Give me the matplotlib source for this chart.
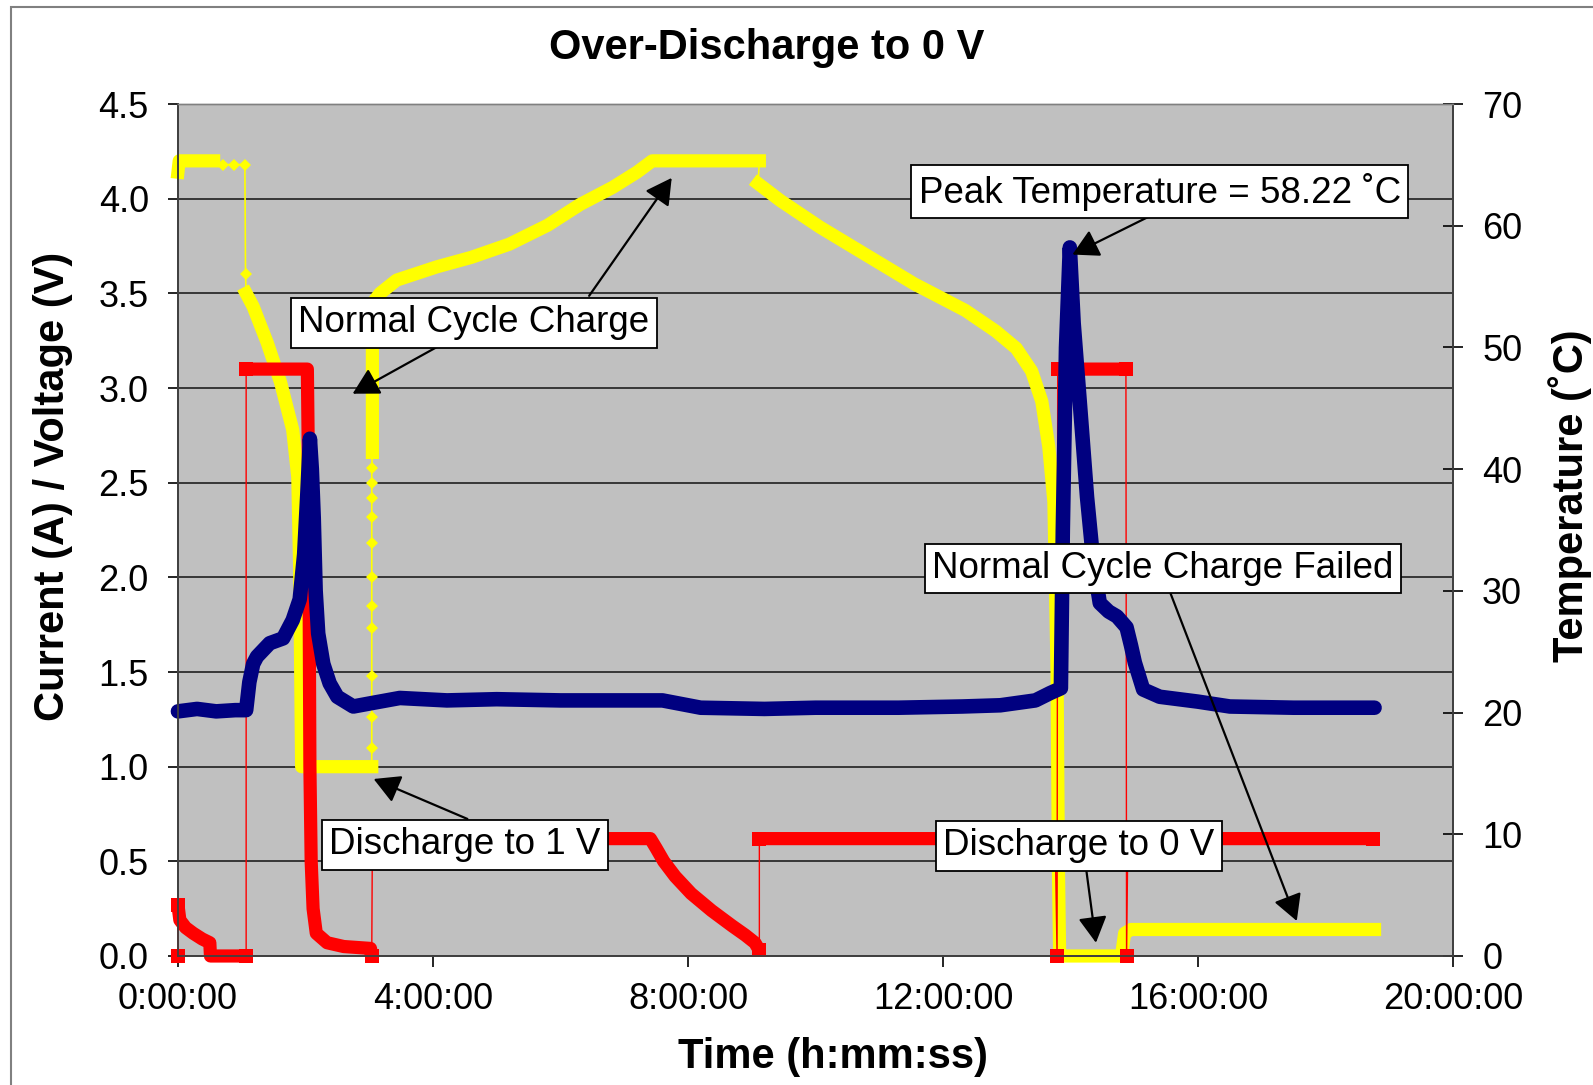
import numpy as np
import matplotlib.pyplot as plt
from matplotlib.patches import Rectangle

plt.rcParams["font.family"] = ["Liberation Sans", "DejaVu Sans"]

nan = np.nan

# time in hours; nan marks a jump that the logger drew as a thin connector
voltage_t = [0.00, 0.02, 0.30, 0.56, nan, 0.70, nan, 0.88, nan, 1.05, nan, 1.06, nan,
             1.07, 1.18, 1.40, 1.61, 1.80, 1.88, 1.91, 1.94, 2.00, 3.04, nan,
             3.04, nan, 3.04, nan, 3.04, nan, 3.04, nan, 3.04, nan, 3.04, nan,
             3.04, nan, 3.04, nan, 3.04, nan, 3.04, nan, 3.04, nan,
             3.05, 3.05, 3.06, 3.08, 3.17, 3.43, 4.06, 4.60, 5.20, 5.80, 6.31, 6.82,
             7.20, 7.44, 9.12, nan,
             9.10, 9.45, 10.07, 10.76, 11.55, 12.35, 12.83, 13.15, 13.39, 13.55,
             13.66, 13.74, 13.79, 13.81, 13.83, 14.80, 14.85, 14.95, 18.77]
voltage_v = [4.14, 4.20, 4.20, 4.20, nan, 4.18, nan, 4.18, nan, 4.18, nan, 3.60, nan,
             3.50, 3.43, 3.24, 3.03, 2.78, 2.53, 2.04, 1.00, 1.00, 1.00, nan,
             1.10, nan, 1.26, nan, 1.48, nan, 1.73, nan, 1.85, nan, 2.00, nan,
             2.18, nan, 2.32, nan, 2.42, nan, 2.50, nan, 2.58, nan,
             2.66, 3.30, 3.42, 3.46, 3.50, 3.57, 3.64, 3.69, 3.76, 3.86, 3.97, 4.06,
             4.14, 4.20, 4.20, nan,
             4.08, 3.99, 3.85, 3.71, 3.55, 3.41, 3.30, 3.21, 3.09, 2.93,
             2.69, 2.40, 1.50, 0.50, 0.00, 0.00, 0.12, 0.14, 0.14]

current_t = [0.00, nan,
             0.00, 0.03, 0.12, 0.24, 0.38, 0.50, 0.51, 1.07, nan,
             1.07, 2.03, 2.05, 2.07, 2.09, 2.12, 2.17, 2.34, 2.60, 3.02, 3.04, nan,
             3.05, 7.41, 7.50, 7.62, 7.80, 8.05, 8.37, 8.69, 8.90, 9.05, 9.12, nan,
             9.12, 13.76, nan, 13.79, nan, 13.80, 14.87, nan, 14.88, nan, 14.90, 18.74]
current_a = [0.00, nan,
             0.27, 0.19, 0.15, 0.12, 0.09, 0.07, 0.00, 0.00, nan,
             3.10, 3.10, 2.50, 1.00, 0.50, 0.25, 0.12, 0.07, 0.05, 0.04, 0.00, nan,
             0.62, 0.62, 0.57, 0.50, 0.42, 0.33, 0.24, 0.16, 0.11, 0.07, 0.03, nan,
             0.62, 0.62, nan, 0.00, nan, 3.10, 3.10, nan, 0.00, nan, 0.62, 0.62]

temp_t = [0.00, 0.30, 0.60, 0.90, 1.07, 1.12, 1.18, 1.24, 1.44, 1.65, 1.80, 1.91,
          1.98, 2.03, 2.07, 2.10, 2.13, 2.16, 2.20, 2.28, 2.38, 2.50, 2.75, 3.06,
          3.48, 4.22, 5.00, 6.00, 7.00, 7.60, 8.20, 9.20, 10.00, 11.30, 12.30,
          12.90, 13.45, 13.68, 13.85, 13.88, 13.93, 13.99, 14.05, 14.18, 14.26,
          14.36, 14.46, 14.60, 14.73, 14.88, 14.95, 15.01, 15.14, 15.40, 16.00,
          16.50, 17.50, 18.77]
temp_c = [20.1, 20.3, 20.1, 20.2, 20.2, 22.5, 24.0, 24.6, 25.7, 26.1, 27.6, 29.3,
          33.0, 38.0, 42.5, 40.0, 36.0, 30.0, 26.5, 24.0, 22.4, 21.3, 20.5, 20.8,
          21.2, 21.0, 21.1, 21.0, 21.0, 21.0, 20.4, 20.3, 20.4, 20.4, 20.5,
          20.6, 21.0, 21.6, 22.0, 35.0, 50.0, 58.22, 52.0, 43.2, 37.7,
          32.3, 29.0, 28.3, 27.9, 27.0, 25.5, 24.1, 21.9, 21.3, 20.9,
          20.5, 20.4, 20.4]

x_tick_hours = [0, 4, 8, 12, 16, 20]
x_tick_labels = ["0:00:00", "4:00:00", "8:00:00", "12:00:00", "16:00:00", "20:00:00"]
left_ticks = [0.0, 0.5, 1.0, 1.5, 2.0, 2.5, 3.0, 3.5, 4.0, 4.5]
right_ticks = [0, 10, 20, 30, 40, 50, 60, 70]


def connected(t, v):
    t = np.asarray(t, dtype=float)
    v = np.asarray(v, dtype=float)
    keep = ~np.isnan(t)
    return t[keep], v[keep]


def piece_ends(t, v):
    # first and last point of every unbroken piece (lone points included)
    t = np.asarray(t, dtype=float)
    v = np.asarray(v, dtype=float)
    padded = np.concatenate([[nan], t, [nan]])
    end = (~np.isnan(t)) & (np.isnan(padded[:-2]) | np.isnan(padded[2:]))
    return t[end], v[end]


fig = plt.figure(figsize=(15.93, 10.85), dpi=100)
ax = fig.add_axes([0.1117, 0.1189, 0.8004, 0.7852])
ax.set_facecolor("#c0c0c0")
ax2 = ax.twinx()

# voltage
vt, vv = connected(voltage_t, voltage_v)
ax.plot(vt, vv, color="#ffff00", lw=1.2, zorder=2.2, clip_on=False)
ax.plot(voltage_t, voltage_v, color="#ffff00", lw=9.5, marker="D", ms=6.5,
        mew=0, solid_joinstyle="round", zorder=2.4, clip_on=False)

# current
ct, ca = connected(current_t, current_a)
ax.plot(ct, ca, color="#ff0000", lw=1.0, zorder=2.6, clip_on=False)
ax.plot(current_t, current_a, color="#ff0000", lw=9.5, solid_capstyle="butt",
        solid_joinstyle="round", zorder=2.8, clip_on=False)
et, ea = piece_ends(current_t, current_a)
ax.plot(et, ea, ls="none", marker="s", ms=9.5, mew=0, color="#ff0000",
        zorder=2.8, clip_on=False)

# temperature
ax2.plot(temp_t, temp_c, color="#000080", lw=10.5, solid_joinstyle="round",
         solid_capstyle="round", zorder=2, clip_on=False)

ax.set_xlim(0, 20)
ax.set_ylim(0, 4.5)
ax2.set_ylim(0, 70)

ax.set_xticks(x_tick_hours)
ax.set_xticklabels(x_tick_labels)
ax.set_yticks(left_ticks)
ax.set_yticklabels([f"{y:.1f}" for y in left_ticks])
ax2.set_yticks(right_ticks)

ax.yaxis.grid(True, color="#202020", lw=1.2)
ax.set_axisbelow(True)

ax.tick_params(axis="y", direction="out", length=7, width=1.2, pad=14,
               labelsize=26, colors="black")
ax.tick_params(axis="x", direction="out", length=8, width=1.2, pad=11,
               labelsize=26)
ax2.tick_params(axis="y", direction="inout", length=14, width=1.2, pad=14,
                labelsize=26)

for a in (ax, ax2):
    for side in ("left", "bottom", "right"):
        a.spines[side].set_color("#404040")
        a.spines[side].set_linewidth(1.3)
    a.spines["top"].set_color("#808080")
    a.spines["top"].set_linewidth(1.0)

# callouts
box = dict(boxstyle="square,pad=0.2", facecolor="white", edgecolor="black", lw=1.3)
arrow = dict(arrowstyle="-|>,head_length=0.4,head_width=0.22", color="black",
             lw=1.6, mutation_scale=40, shrinkA=0, shrinkB=0)


def callout(text, center, arrows):
    for tail, tip in arrows:
        ax2.annotate("", xy=tip, xytext=tail, xycoords=ax.transData,
                     textcoords=ax.transData, arrowprops=arrow, zorder=9)
    ax2.text(center[0], center[1], text, transform=ax.transData, ha="center",
             va="center", fontsize=26.5, bbox=box, zorder=10)


callout("Normal Cycle Charge", (4.64, 3.345),
        [((4.08, 3.22), (2.74, 2.97)), ((6.45, 3.487), (7.745, 4.11))])
callout("Peak Temperature = 58.22 ˚C", (15.40, 4.037),
        [((15.70, 3.984), (14.03, 3.705))])
callout("Discharge to 1 V", (4.50, 0.587), [((4.54, 0.724), (3.07, 0.935))])
callout("Normal Cycle Charge Failed", (15.45, 2.047),
        [((15.57, 1.915), (17.55, 0.185))])
callout("Discharge to 0 V", (14.13, 0.582), [((14.25, 0.45), (14.40, 0.07))])

fig.text(0.4815, 0.956, "Over-Discharge to 0 V", ha="center", va="center",
         fontsize=30, fontweight="bold")
fig.text(0.523, 0.026, "Time (h:mm:ss)", ha="center", va="center",
         fontsize=30, fontweight="bold")
fig.text(0.0333, 0.552, "Current (A) / Voltage (V)", ha="center", va="center",
         rotation=90, fontsize=30, fontweight="bold")
fig.text(0.9856, 0.543, "Temperature (˚C)", ha="center", va="center",
         rotation=90, fontsize=30, fontweight="bold")

fig.patches.append(Rectangle((11 / 1593, -0.05), 1.2, 1 - 7 / 1085 + 0.05,
                             transform=fig.transFigure, fill=False,
                             edgecolor="#808080", lw=1.5))

fig.savefig("out.png", dpi=100)
